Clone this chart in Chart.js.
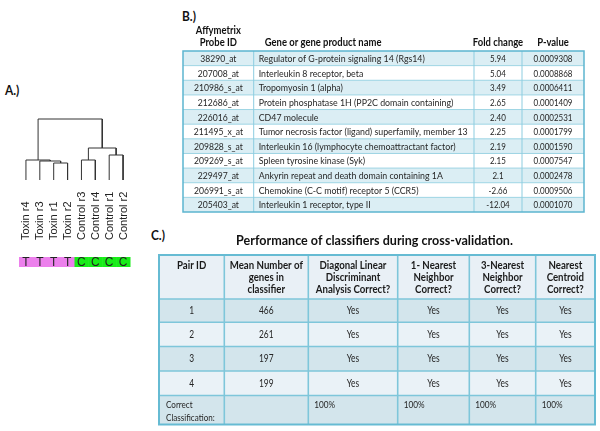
<!DOCTYPE html>
<html><head><meta charset="utf-8">
<script src="https://cdn.jsdelivr.net/npm/chart.js@4.4.1/dist/chart.umd.min.js"></script>
<style>
html,body{margin:0;padding:0;background:#fff;width:600px;height:431px;overflow:hidden;position:relative;}
canvas{position:absolute;}
.lbl{position:absolute;font-family:Lato,'Open Sans',sans-serif;font-weight:bold;font-size:14px;line-height:14px;color:#111;transform:scaleX(0.85);transform-origin:0 0;white-space:nowrap;}
</style></head><body>
<div class="lbl" style="left:5px;top:83px">A.)</div>
<div class="lbl" style="left:182px;top:9px">B.)</div>
<div class="lbl" style="left:151px;top:228px">C.)</div>
<canvas id="cA" width="150" height="180" style="left:0;top:100px"></canvas>
<canvas id="cB" width="420" height="200" style="left:175px;top:20px"></canvas>
<canvas id="cC" width="460" height="206" style="left:140px;top:225px"></canvas>
<script>
// ---------- Panel A: hierarchical clustering ----------
const leafLabels = ['Toxin r4','Toxin r3','Toxin r1','Toxin r2','Control r3','Control r4','Control r1','Control r2'];
const leafGroups = ['T','T','T','T','C','C','C','C'];
// linkage (ids >= 8 are merged clusters)
const mergeLeft   = [2, 1, 0, 4, 6, 11, 10];
const mergeRight  = [3, 8, 9, 5, 7, 12, 13];
const mergeHeight = [0.17, 0.19, 0.20, 0.20, 0.25, 0.32, 0.61];

// ---------- Panel B: gene table ----------
const probeIds = ['38290_at','207008_at','210986_s_at','212686_at','226016_at','211495_x_at','209828_s_at','209269_s_at','229497_at','206991_s_at','205403_at'];
const geneNames = ['Regulator of G-protein signaling 14 (Rgs14)','Interleukin 8 receptor, beta','Tropomyosin 1 (alpha)','Protein phosphatase 1H (PP2C domain containing)','CD47 molecule','Tumor necrosis factor (ligand) superfamily, member 13','Interleukin 16 (lymphocyte chemoattractant factor)','Spleen tyrosine kinase (Syk)','Ankyrin repeat and death domain containing 1A','Chemokine (C-C motif) receptor 5 (CCR5)','Interleukin 1 receptor, type II'];
const foldChange = ['5.94','5.04','3.49','2.65','2.40','2.25','2.19','2.15','2.1','-2.66','-12.04'];
const pValues = ['0.0009308','0.0008868','0.0006411','0.0001409','0.0002531','0.0001799','0.0001590','0.0007547','0.0002478','0.0009506','0.0001070'];
const headerB = [['Affymetrix','Probe ID'],['Gene or gene product name'],['Fold change'],['P-value']];

// ---------- Panel C: classifier table ----------
const titleC = 'Performance of classifiers during cross-validation.';
const headerC = [['Pair ID'],['Mean Number of','genes in','classifier'],['Diagonal Linear','Discriminant','Analysis Correct?'],['1- Nearest','Neighbor','Correct?'],['3-Nearest','Neighbor','Correct?'],['Nearest','Centroid','Correct?']];
const pairIds = ['1','2','3','4'];
const meanGenes = [466, 261, 197, 199];
const dldaCorrect = ['Yes','Yes','Yes','Yes'];
const nn1Correct = ['Yes','Yes','Yes','Yes'];
const nn3Correct = ['Yes','Yes','Yes','Yes'];
const centroidCorrect = ['Yes','Yes','Yes','Yes'];
const summaryLabel = ['Correct','Classification:'];
const correctClassification = ['100%','100%','100%','100%'];

// layout (column / row edges, in table units)
const bColEdges = [0, 70.7, 291, 339, 401];
const cColEdges = [0, 65.3, 149.3, 238.7, 310.3, 376.7, 436];
const cRowEdges = [0, 44, 67.3, 91.5, 116, 140.5, 169.5];

const FONT = 'Lato, "Open Sans", sans-serif';
const INK = '#262626';
function txt(ctx, s, x, y, align, size, bold, sx, color){
  ctx.save();
  ctx.font = (bold ? 'bold ' : '') + size + 'px ' + FONT;
  ctx.fillStyle = color || INK;
  ctx.textBaseline = 'middle';
  ctx.textAlign = align;
  ctx.translate(x, y); ctx.scale(sx, 1);
  ctx.fillText(s, 0, 0);
  ctx.restore();
}
function line(ctx, x0, y0, x1, y1, color, w){
  ctx.save(); ctx.strokeStyle = color; ctx.lineWidth = w;
  ctx.beginPath(); ctx.moveTo(x0, y0); ctx.lineTo(x1, y1); ctx.stroke(); ctx.restore();
}
const baseOpts = {responsive:false, animation:false, events:[], plugins:{legend:{display:false}, tooltip:{enabled:false}}};

// ----- Chart A -----
const nodeX = leafLabels.map((_, i) => i);
const nodeH = leafLabels.map(() => 0);
mergeLeft.forEach((a, k) => { const b = mergeRight[k]; nodeX.push((nodeX[a] + nodeX[b]) / 2); nodeH.push(mergeHeight[k]); });
const dendroSets = mergeLeft.map((a, k) => {
  const b = mergeRight[k], h = mergeHeight[k];
  return {data:[{x:nodeX[a], y:nodeH[a]}, {x:nodeX[a], y:h}, {x:nodeX[b], y:h}, {x:nodeX[b], y:nodeH[b]}],
    showLine:true, borderColor:'#333', borderWidth:1, pointRadius:0, fill:false, tension:0, clip:false};
});
new Chart(document.getElementById('cA'), {
  type:'scatter',
  data:{datasets:dendroSets},
  options:Object.assign({}, baseOpts, {
    layout:{padding:{left:19, right:20, top:19, bottom:100}},
    scales:{x:{type:'linear', display:false, min:-0.5, max:leafLabels.length - 0.5},
            y:{type:'linear', display:false, min:0, max:Math.max(...mergeHeight)}}
  }),
  plugins:[{id:'leaves', afterDraw(chart){
    const ctx = chart.ctx, xs = chart.scales.x, ys = chart.scales.y;
    const base = ys.getPixelForValue(0);
    leafLabels.forEach((t, i) => {
      const x = xs.getPixelForValue(i);
      ctx.save(); ctx.translate(x, base + 60); ctx.rotate(-Math.PI / 2);
      ctx.font = '11px "Liberation Sans", Arial, sans-serif'; ctx.fillStyle = '#222';
      ctx.textAlign = 'left'; ctx.textBaseline = 'middle'; ctx.fillText(t, 0, 0.5); ctx.restore();
    });
    leafGroups.forEach((g, i) => {
      const x0 = xs.getPixelForValue(i - 0.5), x1 = xs.getPixelForValue(i + 0.5);
      ctx.fillStyle = g === 'T' ? '#ec80ec' : '#18ec18';
      ctx.fillRect(x0, base + 77, x1 - x0 + 0.5, 10);
    });
    leafGroups.forEach((g, i) => {
      const x = xs.getPixelForValue(i);
      ctx.save(); ctx.font = '12px "Liberation Sans", Arial, sans-serif'; ctx.fillStyle = '#222';
      ctx.textAlign = 'center'; ctx.textBaseline = 'middle'; ctx.fillText(g, x, base + 82.5); ctx.restore();
    });
  }}]
});

// ----- Chart B -----
new Chart(document.getElementById('cB'), {
  type:'scatter',
  data:{datasets:[]},
  options:Object.assign({}, baseOpts, {
    layout:{padding:{left:8, right:11, top:31, bottom:8}},
    scales:{x:{type:'linear', display:false, min:0, max:bColEdges[bColEdges.length - 1]},
            y:{type:'linear', display:false, reverse:true, min:0, max:probeIds.length}}
  }),
  plugins:[{id:'tableB', afterDraw(chart){
    const ctx = chart.ctx, xs = chart.scales.x, ys = chart.scales.y;
    const X = v => xs.getPixelForValue(v), Y = v => ys.getPixelForValue(v);
    const n = probeIds.length, E = bColEdges, L = X(E[0]), R = X(E[E.length - 1]);
    for (let i = 0; i < n; i++) {
      ctx.fillStyle = i % 2 === 0 ? '#dbeef4' : '#ffffff';
      ctx.fillRect(L, Y(i), R - L, Y(i + 1) - Y(i));
    }
    for (let i = 1; i < n; i++) line(ctx, L, Y(i), R, Y(i), '#9dd5e4', 1);
    for (let j = 1; j < E.length - 1; j++) line(ctx, X(E[j]), Y(0), X(E[j]), Y(n), '#8dcde0', 1);
    ctx.save(); ctx.strokeStyle = '#5cb5cf'; ctx.lineWidth = 1.5; ctx.strokeRect(L, Y(0), R - L, Y(n) - Y(0)); ctx.restore();
    for (let i = 0; i < n; i++) {
      const yc = (Y(i) + Y(i + 1)) / 2 + 0.5;
      txt(ctx, probeIds[i], (X(E[0]) + X(E[1])) / 2, yc, 'center', 10, false, 0.86);
      txt(ctx, geneNames[i], X(E[1]) + 5, yc, 'left', 10, false, 0.88);
      txt(ctx, foldChange[i], (X(E[2]) + X(E[3])) / 2, yc, 'center', 10, false, 0.8);
      txt(ctx, pValues[i], (X(E[3]) + X(E[4])) / 2, yc, 'center', 10, false, 0.8);
    }
    const top = Y(0);
    txt(ctx, headerB[0][0], (X(E[0]) + X(E[1])) / 2, top - 20, 'center', 10.5, true, 0.9, '#111');
    txt(ctx, headerB[0][1], (X(E[0]) + X(E[1])) / 2, top - 8, 'center', 10.5, true, 0.9, '#111');
    txt(ctx, headerB[1][0], X(E[1]) + 11, top - 8, 'left', 10.5, true, 0.9, '#111');
    txt(ctx, headerB[2][0], (X(E[2]) + X(E[3])) / 2, top - 8, 'center', 10.5, true, 0.9, '#111');
    txt(ctx, headerB[3][0], (X(E[3]) + X(E[4])) / 2, top - 8, 'center', 10.5, true, 0.9, '#111');
  }}]
});

// ----- Chart C -----
new Chart(document.getElementById('cC'), {
  type:'scatter',
  data:{datasets:[]},
  options:Object.assign({}, baseOpts, {
    layout:{padding:{left:19, right:5, top:30, bottom:6.5}},
    scales:{x:{type:'linear', display:false, min:0, max:cColEdges[cColEdges.length - 1]},
            y:{type:'linear', display:false, reverse:true, min:0, max:cRowEdges[cRowEdges.length - 1]}}
  }),
  plugins:[{id:'tableC', afterDraw(chart){
    const ctx = chart.ctx, xs = chart.scales.x, ys = chart.scales.y;
    const X = v => xs.getPixelForValue(v), Y = v => ys.getPixelForValue(v);
    const E = cColEdges, RE = cRowEdges, L = X(E[0]), R = X(E[E.length - 1]);
    const fills = ['#e9f0f6', '#d3e5ec', '#eaf2f7', '#d3e5ec', '#eaf2f7', '#d3e5ec'];
    for (let r = 0; r < RE.length - 1; r++) {
      ctx.fillStyle = fills[r];
      ctx.fillRect(L, Y(RE[r]), R - L, Y(RE[r + 1]) - Y(RE[r]));
    }
    for (let r = 1; r < RE.length - 1; r++) line(ctx, L, Y(RE[r]), R, Y(RE[r]), '#7ec6da', 1.6);
    for (let j = 1; j < E.length - 1; j++) line(ctx, X(E[j]), Y(RE[0]), X(E[j]), Y(RE[RE.length - 1]), '#7ec6da', 1.6);
    ctx.save(); ctx.strokeStyle = '#66bbd3'; ctx.lineWidth = 2; ctx.strokeRect(L, Y(RE[0]), R - L, Y(RE[RE.length - 1]) - Y(RE[0])); ctx.restore();
    // title
    txt(ctx, titleC, (L + R) / 2 - 2.5, Y(RE[0]) - 14, 'center', 13.5, true, 0.93, '#111');
    // header
    headerC.forEach((lines, j) => {
      const xc = (X(E[j]) + X(E[j + 1])) / 2;
      lines.forEach((s, k) => txt(ctx, s, xc, Y(RE[0]) + 11 + k * 11.8, 'center', 10.5, true, 0.92, '#1a1a1a'));
    });
    // body
    const cols = [pairIds, meanGenes, dldaCorrect, nn1Correct, nn3Correct, centroidCorrect];
    for (let i = 0; i < pairIds.length; i++) {
      const yc = (Y(RE[i + 1]) + Y(RE[i + 2])) / 2;
      cols.forEach((col, j) => txt(ctx, String(col[i]), (X(E[j]) + X(E[j + 1])) / 2, yc, 'center', 10.5, false, 0.8));
    }
    const last = RE.length - 2, yt = Y(RE[last]);
    txt(ctx, summaryLabel[0], X(E[0]) + 7, yt + 9.5, 'left', 9.5, false, 0.85);
    txt(ctx, summaryLabel[1], X(E[0]) + 7, yt + 22, 'left', 9.5, false, 0.85);
    correctClassification.forEach((s, k) => txt(ctx, s, X(E[k + 2]) + 6, yt + 9.5, 'left', 10, false, 0.82));
  }}]
});
</script>
</body></html>
